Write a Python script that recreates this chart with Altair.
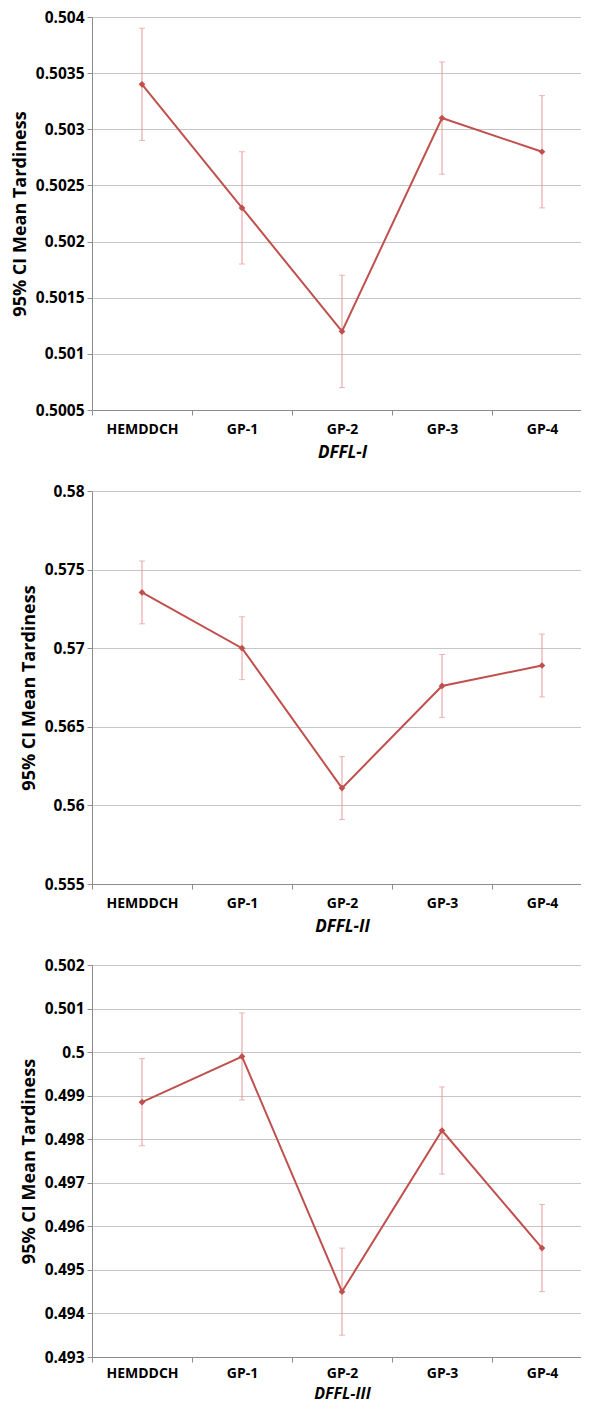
import altair as alt
import pandas as pd

categories = ["HEMDDCH", "GP-1", "GP-2", "GP-3", "GP-4"]

# Panel 1: DFFL-I
p1_mean = [0.5034, 0.5023, 0.5012, 0.5031, 0.5028]
p1_low = [0.5029, 0.5018, 0.5007, 0.5026, 0.5023]
p1_high = [0.5039, 0.5028, 0.5017, 0.5036, 0.5033]
p1_ticks = [0.5005, 0.501, 0.5015, 0.502, 0.5025, 0.503, 0.5035, 0.504]

# Panel 2: DFFL-II
p2_mean = [0.57355, 0.5700, 0.5611, 0.5676, 0.5689]
p2_low = [0.57155, 0.5680, 0.5591, 0.5656, 0.5669]
p2_high = [0.57555, 0.5720, 0.5631, 0.5696, 0.5709]
p2_ticks = [0.555, 0.56, 0.565, 0.57, 0.575, 0.58]

# Panel 3: DFFL-III
p3_mean = [0.49885, 0.4999, 0.4945, 0.4982, 0.4955]
p3_low = [0.49785, 0.4989, 0.4935, 0.4972, 0.4945]
p3_high = [0.49985, 0.5009, 0.4955, 0.4992, 0.4965]
p3_ticks = [0.493, 0.494, 0.495, 0.496, 0.497, 0.498, 0.499, 0.5, 0.501, 0.502]

LINE = "#c0504d"
ERR = "#e59a99"
FONT = "Open Sans"
Y_TITLE = "95% CI Mean Tardiness"


def panel(mean, low, high, ticks, fmt, xtitle, h, lp, tp, tfs):
    df = pd.DataFrame({"cat": categories, "mean": mean, "low": low, "high": high})
    domain = [ticks[0], ticks[-1]]
    x = alt.X(
        "cat:N",
        sort=categories,
        scale=alt.Scale(type="band", paddingInner=0, paddingOuter=0),
        axis=alt.Axis(
            title=xtitle,
            labelAngle=0,
            tickBand="extent",
            grid=False,
            domainColor="#8c8c8c",
            tickColor="#8c8c8c",
            tickSize=5,
            labelFont=FONT,
            labelFontSize=14,
            labelFontWeight="bold",
            labelColor="#000000",
            labelPadding=lp,
            titleFont=FONT,
            titleFontSize=tfs,
            titleFontWeight="bold",
            titleFontStyle="italic",
            titleColor="#000000",
            titlePadding=tp,
        ),
    )
    yscale = alt.Scale(domain=domain, nice=False, zero=False)
    yaxis = alt.Axis(
        title=Y_TITLE,
        values=ticks,
        format=fmt,
        grid=True,
        gridColor="#c6c6c6",
        domainColor="#8c8c8c",
        tickColor="#8c8c8c",
        tickSize=5,
        labelFont=FONT,
        labelFontSize=15.5,
        labelFontWeight="bold",
        labelColor="#000000",
        labelPadding=3,
        titleFont=FONT,
        titleFontSize=18,
        titleFontWeight="bold",
        titleColor="#000000",
        titlePadding=6,
    )
    base = alt.Chart(df).encode(x=x)
    rule = base.mark_rule(color=ERR, strokeWidth=1).encode(
        y=alt.Y("low:Q", scale=yscale, axis=yaxis), y2="high:Q"
    )
    cap_lo = base.mark_tick(color=ERR, size=6, thickness=1).encode(
        y=alt.Y("low:Q", scale=yscale)
    )
    cap_hi = base.mark_tick(color=ERR, size=6, thickness=1).encode(
        y=alt.Y("high:Q", scale=yscale)
    )
    line = base.mark_line(color=LINE, strokeWidth=2).encode(
        y=alt.Y("mean:Q", scale=yscale)
    )
    pts = base.mark_point(shape="diamond", filled=True, size=45, color=LINE, opacity=1).encode(
        y=alt.Y("mean:Q", scale=yscale)
    )
    return alt.layer(rule, cap_lo, cap_hi, line, pts).properties(width=500, height=h)


c1 = panel(p1_mean, p1_low, p1_high, p1_ticks, ".4~f", "DFFL-I", 393, 7, 8, 17)
c2 = panel(p2_mean, p2_low, p2_high, p2_ticks, ".3~f", "DFFL-II", 393, 7, 8, 17)
c3 = panel(p3_mean, p3_low, p3_high, p3_ticks, ".3~f", "DFFL-III", 392, 4, 5, 16)

chart = (
    alt.vconcat(c1, c2, c3, spacing=22)
    .properties(padding={"left": 2, "top": 1, "right": -12, "bottom": 0})
    .configure_view(stroke=None)
    .configure(background="#ffffff")
)

chart.save("out.html", embed_options={"renderer": "svg", "actions": False})
